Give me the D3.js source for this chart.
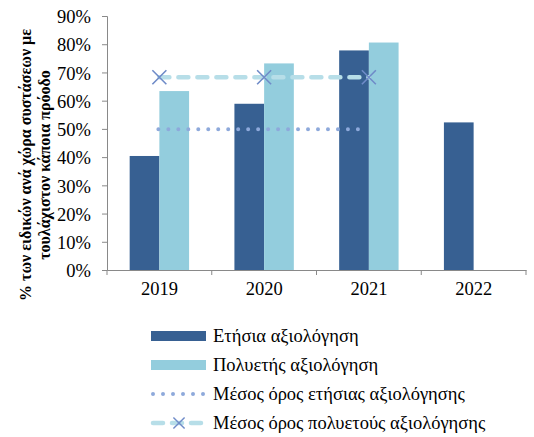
<!DOCTYPE html>
<html>
<head>
<meta charset="utf-8">
<script src="https://cdn.jsdelivr.net/npm/d3@7"></script>
<style>
  body { margin: 0; background: #fff; }
</style>
</head>
<body>
<svg id="chart" width="534" height="437" font-family="Liberation Serif"></svg>
<script>
// chart data
var years = ['2019', '2020', '2021', '2022'];
var annual = [40.4, 58.9, 77.8, 52.3];
var multiYear = [63.4, 73.2, 80.6, null];
var annualAvgYears = ['2019', '2020', '2021'];
var annualAvg = [49.9, 49.9, 49.9];
var multiAvg = [68.3, 68.3, 68.3];
var yTicks = [0, 10, 20, 30, 40, 50, 60, 70, 80, 90];
var legendLabels = ['Ετήσια αξιολόγηση', 'Πολυετής αξιολόγηση',
    'Μέσος όρος ετήσιας αξιολόγησης', 'Μέσος όρος πολυετούς αξιολόγησης'];
var titleLines = ['% των ειδικών ανά χώρα συστάσεων με', 'τουλάχιστον κάποια πρόοδο'];

var DARK = '#376092', LIGHT = '#93cddd', DOTS = '#8ea9db', DASH = '#b7dee8', CROSS = '#6f8bc8';
var FONT = 'Liberation Serif';

var svg = d3.select('#chart');
var plotLeft = 107, plotRight = 526, plotTop = 16, plotBottom = 270;

var x = d3.scaleBand().domain(years).range([plotLeft, plotRight]).paddingInner(0).paddingOuter(0);
var inner = d3.scaleBand().domain(['a', 'm']).range([0, x.bandwidth()]).paddingInner(0).paddingOuter(0.763);
var y = d3.scaleLinear().domain([0, 90]).range([plotBottom, plotTop]);

//axes
var yAxis = svg.append('g')
    .attr('transform', 'translate(' + plotLeft + ',0)')
    .call(d3.axisLeft(y).tickValues(yTicks).tickSize(5).tickFormat(function(d) { return d + '%'; }));
yAxis.selectAll('text').attr('x', -16).attr('dy', '0.36em');

var xAxis = svg.append('g')
    .attr('transform', 'translate(0,' + plotBottom + ')')
    .call(d3.axisBottom(x).tickSize(0).tickSizeOuter(0));
xAxis.selectAll('text').attr('y', 12).attr('dy', '0.71em');
// category separators
xAxis.selectAll('.sep')
    .data(years.concat(['end']))
    .enter().append('line')
    .attr('class', 'sep')
    .attr('x1', function(d) { return d === 'end' ? plotRight : x(d); })
    .attr('x2', function(d) { return d === 'end' ? plotRight : x(d); })
    .attr('y1', 0).attr('y2', 5);
svg.selectAll('.domain, .tick line, .sep').attr('stroke', '#898989').attr('stroke-width', 1);
yAxis.attr('font-family', FONT).attr('font-size', 18.5);
xAxis.attr('font-family', FONT).attr('font-size', 18.5);
svg.selectAll('.tick text').attr('fill', '#000');

// bars
var groups = svg.append('g').selectAll('g')
    .data(years)
    .enter().append('g')
    .attr('transform', function(d) { return 'translate(' + x(d) + ',0)'; });

groups.append('rect')
    .attr('x', inner('a'))
    .attr('width', inner.bandwidth())
    .attr('y', function(d, i) { return y(annual[i]); })
    .attr('height', function(d, i) { return plotBottom - y(annual[i]); })
    .attr('fill', DARK);

groups.filter(function(d, i) { return multiYear[i] !== null; })
    .append('rect')
    .attr('x', inner('m'))
    .attr('width', inner.bandwidth())
    .attr('y', function(d) { return y(multiYear[years.indexOf(d)]); })
    .attr('height', function(d) { return plotBottom - y(multiYear[years.indexOf(d)]); })
    .attr('fill', LIGHT);

// average lines
var cx = function(d) { return x(d) + x.bandwidth() / 2; };
var line = d3.line();

var dotted = svg.append('path')
    .attr('d', line(annualAvgYears.map(function(d, i) { return [cx(d) - 1, y(annualAvg[i])]; })))
    .attr('fill', 'none').attr('stroke', DOTS).attr('stroke-width', 4)
    .attr('stroke-linecap', 'round');
dotted.attr('stroke-dasharray', '0,' + (dotted.node().getTotalLength() / 21));

svg.append('path')
    .attr('d', line(annualAvgYears.map(function(d, i) { return [cx(d), y(multiAvg[i])]; })))
    .attr('fill', 'none').attr('stroke', DASH).attr('stroke-width', 4.5)
    .attr('stroke-linecap', 'round').attr('stroke-dasharray', '10,9');

var crossPath = 'M-7,-7L7,7M-7,7L7,-7';
svg.append('g').selectAll('path')
    .data(annualAvgYears)
    .enter().append('path')
    .attr('transform', function(d, i) { return 'translate(' + cx(d) + ',' + y(multiAvg[i]) + ')'; })
    .attr('d', crossPath)
    .attr('stroke', CROSS).attr('stroke-width', 1.6).attr('fill', 'none');

// y title
var title = svg.append('text')
    .attr('transform', 'translate(25,165) rotate(-90)')
    .attr('text-anchor', 'middle')
    .attr('font-family', FONT)
    .attr('font-size', 16).attr('font-weight', 'bold');
title.selectAll('tspan')
    .data(titleLines)
    .enter().append('tspan')
    .attr('x', 0)
    .attr('dy', function(d, i) { return i === 0 ? '0.35em' : '19px'; })
    .text(function(d) { return d; });

// legend
var legend = svg.append('g').attr('transform', 'translate(151,336)');
var rows = legend.selectAll('g')
    .data(legendLabels)
    .enter().append('g')
    .attr('transform', function(d, i) { return 'translate(0,' + (i * 29) + ')'; });

rows.filter(function(d, i) { return i < 2; })
    .append('rect')
    .attr('x', 0).attr('y', -5).attr('width', 55).attr('height', 10)
    .attr('fill', function(d, i) { return i === 0 ? DARK : LIGHT; });

rows.filter(function(d, i) { return i === 2; })
    .append('line')
    .attr('x1', 2).attr('x2', 55).attr('y1', 0).attr('y2', 0)
    .attr('stroke', DOTS).attr('stroke-width', 4)
    .attr('stroke-linecap', 'round').attr('stroke-dasharray', '0,10');

var r4 = rows.filter(function(d, i) { return i === 3; });
r4.append('line')
    .attr('x1', 2).attr('x2', 53).attr('y1', 0).attr('y2', 0)
    .attr('stroke', DASH).attr('stroke-width', 4.5)
    .attr('stroke-linecap', 'round').attr('stroke-dasharray', '10,9');
r4.append('path')
    .attr('transform', 'translate(28,0) scale(0.8)')
    .attr('d', crossPath)
    .attr('stroke', CROSS).attr('stroke-width', 1.8).attr('fill', 'none');

rows.append('text')
    .attr('x', 62).attr('dy', '0.33em')
    .attr('font-family', FONT)
    .attr('font-size', 18.5)
    .text(function(d) { return d; });
</script>
</body>
</html>
